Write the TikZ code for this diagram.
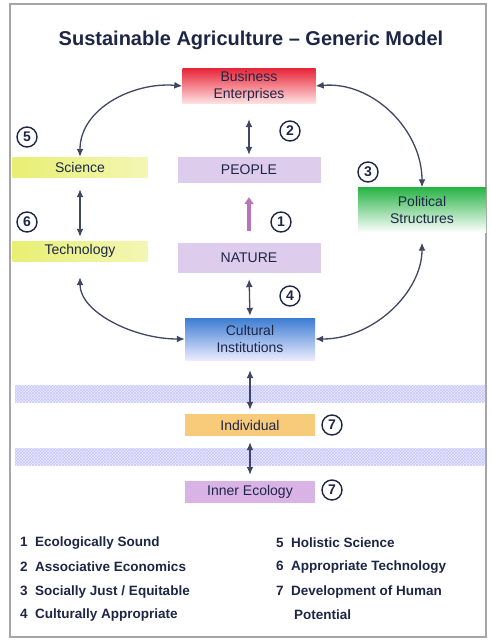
\documentclass[tikz,border=0pt]{standalone}
\usepackage{fontspec}
\setmainfont{Liberation Sans}
\usetikzlibrary{arrows.meta,patterns}
\definecolor{navy}{RGB}{30,38,70}
\definecolor{bizred}{RGB}{232,40,60}
\definecolor{polgreen}{RGB}{40,180,70}
\definecolor{cultblue}{RGB}{60,125,210}
\definecolor{lav}{RGB}{222,204,236}
\definecolor{sciyel}{RGB}{228,236,90}
\definecolor{indorange}{RGB}{246,190,90}
\definecolor{innerpink}{RGB}{208,160,222}
\begin{document}
\begin{tikzpicture}[x=1pt,y=-1pt,
    box/.style={minimum width=130pt,align=center,text=navy,font=\fontsize{14}{17}\selectfont,inner sep=2pt},
    num/.style={circle,draw=navy,line width=1.4pt,inner sep=0.5pt,minimum size=20pt,text=navy,font=\fontsize{14}{14}\selectfont\bfseries},
    link/.style={{Latex[length=8pt,width=7pt]}-{Latex[length=8pt,width=7pt]},line width=1.3pt,navy!85},
    legend/.style={anchor=west,text=navy,font=\fontsize{13.5}{16}\selectfont\bfseries,inner sep=0pt}]
  \useasboundingbox (0,0) rectangle (490,642);
  \fill[white] (0,0) rectangle (490,642);
  \draw[gray!70,line width=1.5pt] (10,4) rectangle (486,637);
  \fill[blue!8] (15,385) rectangle (485,402);
  \fill[pattern=crosshatch,pattern color=blue!22] (15,385) rectangle (485,402);
  \fill[blue!8] (15,448) rectangle (485,465);
  \fill[pattern=crosshatch,pattern color=blue!22] (15,448) rectangle (485,465);
  \node[text=navy,font=\fontsize{20}{24}\selectfont\bfseries] (title) at (251,40) {Sustainable Agriculture -- Generic Model};
  \node[box,minimum width=133pt,minimum height=32pt,top color=bizred,bottom color=red!12] (bus) at (249,86) {Business\\Enterprises};
  \node[box,minimum width=143pt,minimum height=26pt,fill=lav] (people) at (249,170) {PEOPLE};
  \node[box,minimum width=143pt,minimum height=30pt,fill=lav] (nature) at (249,258) {NATURE};
  \node[box,minimum width=135pt,minimum height=20pt,left color=sciyel!85,right color=sciyel!45] (sci) at (80,167) {Science};
  \node[box,minimum width=135pt,minimum height=20pt,left color=sciyel!85,right color=sciyel!45] (tech) at (80,251) {Technology};
  \node[box,minimum width=128pt,minimum height=45pt,top color=polgreen,bottom color=white] (pol) at (422,210) {Political\\Structures};
  \node[box,minimum height=42pt,top color=cultblue,bottom color=blue!8] (cult) at (250,339) {Cultural\\Institutions};
  \node[box,minimum height=22pt,fill=indorange!80] (ind) at (250,425) {Individual};
  \node[box,minimum height=22pt,fill=innerpink!80] (inner) at (250,492) {Inner Ecology};
  \node[num] (n1) at (281,222) {1};
  \node[num] (n2) at (290,131) {2};
  \node[num] (n3) at (368,172) {3};
  \node[num] (n4) at (290,296) {4};
  \node[num] (n5) at (27,137) {5};
  \node[num] (n6) at (27,222) {6};
  \node[num] (n7a) at (332,425) {7};
  \node[num] (n7b) at (332,490) {7};
  \draw[link] (bus.west) to[out=175,in=90] (sci.north);
  \draw[link] (bus.east) to[out=5,in=90] (pol.north);
  \draw[link,shorten <=16pt] (tech.south) to[out=-90,in=180] (cult.west);
  \draw[link,shorten <=10pt] (pol.south) to[out=-90,in=0] (cult.east);
  \draw[link,shorten <=16pt,shorten >=2pt] (bus.south) -- (people.north);
  \draw[link,shorten <=12pt,shorten >=4pt] (sci.south) -- (tech.north);
  \draw[link,shorten <=6pt,shorten >=2pt] (nature.south) -- (cult.north);
  \draw[link,shorten <=10pt,shorten >=4pt] (cult.south) -- (ind.north);
  \draw[link,shorten <=6pt,shorten >=6pt] (ind.south) -- (inner.north);
  \draw[-{Triangle[length=7pt,width=9pt]},line width=4.5pt,violet!55,shorten <=12pt,shorten >=14pt] (nature.north) -- (people.south);
  \node[legend] (l1) at (20,543) {1\ \ Ecologically Sound};
  \node[legend] (l2) at (20,567) {2\ \ Associative Economics};
  \node[legend] (l3) at (20,592) {3\ \ Socially Just / Equitable};
  \node[legend] (l4) at (20,615) {4\ \ Culturally Appropriate};
  \node[legend] (l5) at (276,543) {5\ \ Holistic Science};
  \node[legend] (l6) at (276,567) {6\ \ Appropriate Technology};
  \node[legend] (l7) at (276,592) {7\ \ Development of Human};
  \node[legend] (l7b) at (294,615) {Potential};
\end{tikzpicture}
\end{document}
